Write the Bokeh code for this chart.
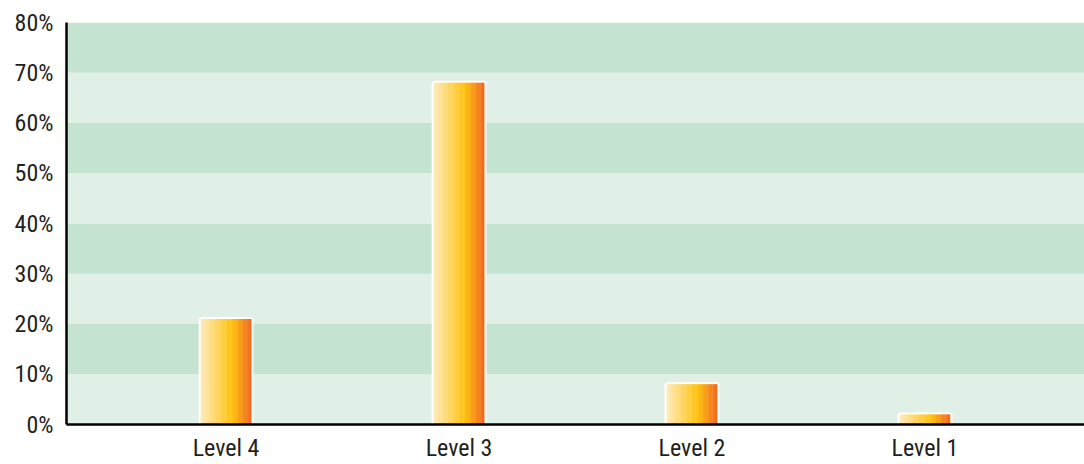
from bokeh.plotting import figure
from bokeh.models import FactorRange, Range1d, BoxAnnotation, FixedTicker, PrintfTickFormatter, ColumnDataSource
from bokeh.transform import dodge
from bokeh.embed import file_html
from bokeh.resources import INLINE

# ---- data ----
levels = ["Level 4", "Level 3", "Level 2", "Level 1"]
percent = [21, 68, 8, 2]
y_ticks = [0, 10, 20, 30, 40, 50, 60, 70, 80]

FONT = "'Roboto Condensed', 'DejaVu Sans Condensed', 'Liberation Sans Narrow', sans-serif"
TEXT = "#231f20"
DARK_BAND = "#c5e3d1"
LIGHT_BAND = "#e1f0e7"

src = ColumnDataSource(dict(level=levels, pct=percent))

p = figure(
    x_range=FactorRange(*levels, range_padding=0.185, range_padding_units="absolute"),
    y_range=Range1d(0, 80),
    width=1084, height=464,
    output_backend="svg", toolbar_location=None,
    min_border_left=66, min_border_right=0, min_border_top=22, min_border_bottom=40,
    background_fill_color="white", border_fill_color="white",
)

# alternating bands
for lo in y_ticks[:-1]:
    col = DARK_BAND if (lo // 10) % 2 == 1 else LIGHT_BAND
    p.add_layout(BoxAnnotation(bottom=lo, top=lo + 10, fill_color=col, fill_alpha=1,
                               line_color=None, level="underlay"))

bw = 0.218
# white outline
p.vbar(x="level", top="pct", width=bw, source=src, fill_color="white",
       line_color="white", line_width=4)

# horizontal gradient via strips
def lerp(a, b, t):
    return tuple(round(a[i] + (b[i] - a[i]) * t) for i in range(3))

stops = [(0.0, (254, 235, 188)), (0.62, (254, 193, 14)), (1.0, (240, 102, 34))]

def grad(t):
    for (t0, c0), (t1, c1) in zip(stops[:-1], stops[1:]):
        if t <= t1:
            return lerp(c0, c1, (t - t0) / (t1 - t0))
    return stops[-1][1]

N = 60
sw = bw / N
for i in range(N):
    t = (i + 0.5) / N
    off = -bw / 2 + (i + 0.5) * sw
    r, g, b = grad(t)
    w = sw * 1.6 if i < N - 1 else sw
    p.vbar(x=dodge("level", off + (w - sw) / 2, range=p.x_range), top="pct", width=w,
           source=src, fill_color="#%02x%02x%02x" % (r, g, b), line_color=None)

# axes
for ax in (p.xaxis, p.yaxis):
    ax.axis_line_color = "black"
    ax.axis_line_width = 2.5
    ax.major_tick_line_color = None
    ax.minor_tick_line_color = None
    ax.major_tick_out = 0
    ax.major_tick_in = 0
    ax.minor_tick_out = 0
    ax.minor_tick_in = 0
    ax.major_label_text_font = FONT
    ax.major_label_text_font_size = "24px"
    ax.major_label_text_color = TEXT

p.yaxis.ticker = FixedTicker(ticks=y_ticks)
p.yaxis.formatter = PrintfTickFormatter(format="%d%%")
p.yaxis.major_label_standoff = 13
p.xaxis.major_label_standoff = 9

p.xgrid.grid_line_color = None
p.ygrid.grid_line_color = None
p.outline_line_color = None

open("out.html", "w").write(file_html(p, INLINE))
